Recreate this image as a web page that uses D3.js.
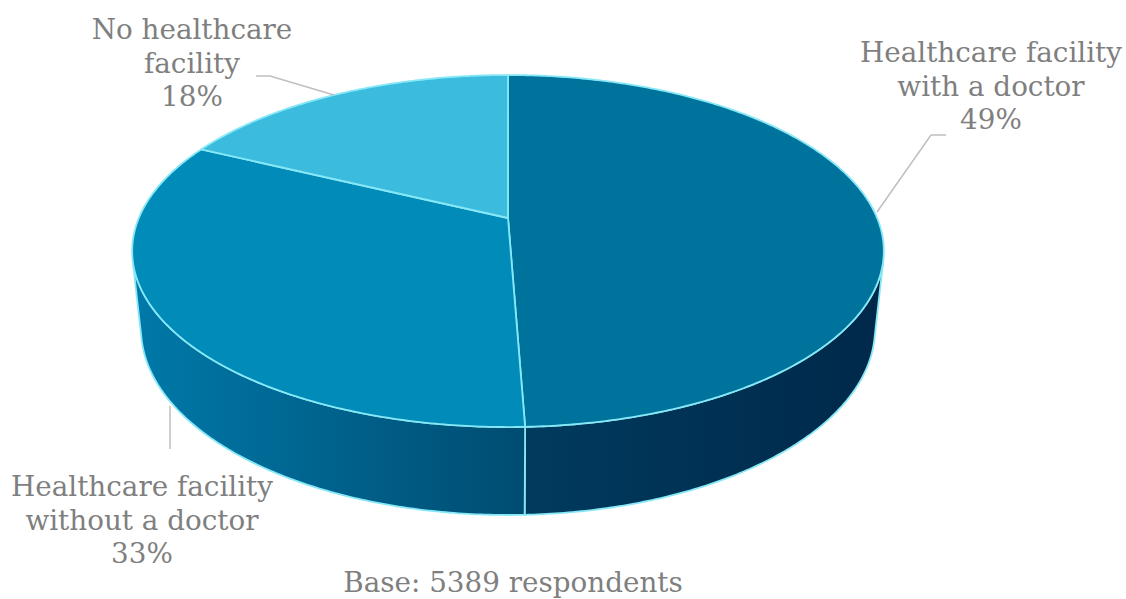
<!DOCTYPE html>
<html>
<head>
<meta charset="utf-8">
<script src="https://cdn.jsdelivr.net/npm/d3@7"></script>
<style>
  html, body { margin: 0; padding: 0; background: #ffffff; }
  svg { display: block; }
  text { font-family: "DejaVu Serif", "Liberation Serif", serif; fill: #7f7f7f; }
</style>
</head>
<body>
<svg id="chart" width="1126" height="599"></svg>
<script>
// ---- data ----
const categories = ["Healthcare facility with a doctor", "Healthcare facility without a doctor", "No healthcare facility"];
const labelLines = [["Healthcare facility", "with a doctor"], ["Healthcare facility", "without a doctor"], ["No healthcare", "facility"]];
const values = [49.4, 32.8, 17.8];
const topColors = ["#00739d", "#008bb9", "#3bbbde"];
const sideColorsFrom = ["#003b5e", "#0079a9", "#2aa3c6"];
const sideColorsTo = ["#00284a", "#004c71", "#1c86a6"];
const baseNote = "Base: 5389 respondents";

// ---- 3D projection (perspective camera looking down at the pie) ----
const X0 = 508, Y0 = 218;
const sinA = 0.46, cosA = Math.sqrt(1 - 0.46 * 0.46);
const L = 4.73, F = 1746, H = 0.239;
function proj(phi, y, r = 1) {
  const x = r * Math.sin(phi), z = r * Math.cos(phi);
  const d = L - y * sinA + z * cosA;
  return [X0 + F * x / d, Y0 - F * (y * cosA + z * sinA) / d];
}

const svg = d3.select("#chart");
const defs = svg.append("defs");

const pie = d3.pie().sort(null).value(d => d).startAngle(0).endAngle(2 * Math.PI);
const arcs = pie(values);

// visible range of the outer wall
const phiVis = Math.acos(-1 / (L * cosA));
const visLo = phiVis, visHi = 2 * Math.PI - phiVis;

const edge = "#86e8f6";
const line = d3.line();

function sample(a0, a1, y) {
  const n = Math.max(2, Math.ceil(Math.abs(a1 - a0) / 0.01));
  return d3.range(n + 1).map(i => proj(a0 + (a1 - a0) * i / n, y));
}

// side walls
const gSide = svg.append("g");
arcs.forEach((a, i) => {
  const s = Math.max(a.startAngle, visLo), e = Math.min(a.endAngle, visHi);
  if (e <= s) return;
  const top = sample(s, e, 0), bot = sample(s, e, -H).reverse();
  const xs = top.concat(bot).map(p => p[0]);
  const gid = "sg" + i;
  const g = defs.append("linearGradient").attr("id", gid).attr("gradientUnits", "userSpaceOnUse")
    .attr("x1", d3.min(xs)).attr("x2", d3.max(xs)).attr("y1", 0).attr("y2", 0);
  g.append("stop").attr("offset", 0).attr("stop-color", sideColorsFrom[i]);
  g.append("stop").attr("offset", 1).attr("stop-color", sideColorsTo[i]);
  gSide.append("path")
    .attr("d", line(top.concat(bot)) + "Z")
    .attr("fill", `url(#${gid})`)
    .attr("stroke", edge).attr("stroke-width", 1.8).attr("stroke-linejoin", "round");
});

// top faces
const gTop = svg.append("g");
arcs.forEach((a, i) => {
  const pts = [proj(0, 0, 0)].concat(sample(a.startAngle, a.endAngle, 0));
  gTop.append("path")
    .attr("d", line(pts) + "Z")
    .attr("fill", topColors[i])
    .attr("stroke", edge).attr("stroke-width", 1.8).attr("stroke-linejoin", "round");
});

// leader lines
const leaders = [
  [[877, 212], [931, 135], [946, 135]],
  [[170, 406], [170, 449]],
  [[334, 95], [270, 76], [256, 76]]
];
svg.append("g").selectAll("path").data(leaders).join("path")
  .attr("d", d => line(d)).attr("fill", "none")
  .attr("stroke", "#bfbfbf").attr("stroke-width", 1.5);

// labels
const labelPos = [[991, 62], [142, 496], [192, 39]];
const fs = 27.8, lh = 33.5;
arcs.forEach((a, i) => {
  const t = svg.append("text").attr("text-anchor", "middle").attr("font-size", fs);
  const lines = labelLines[i].concat([Math.round(values[i]) + "%"]);
  lines.forEach((s, k) => {
    t.append("tspan").attr("x", labelPos[i][0]).attr("y", labelPos[i][1] + k * lh).text(s);
  });
});

svg.append("text").attr("x", 513).attr("y", 592).attr("text-anchor", "middle")
  .attr("font-size", fs).text(baseNote);
</script>
</body>
</html>
